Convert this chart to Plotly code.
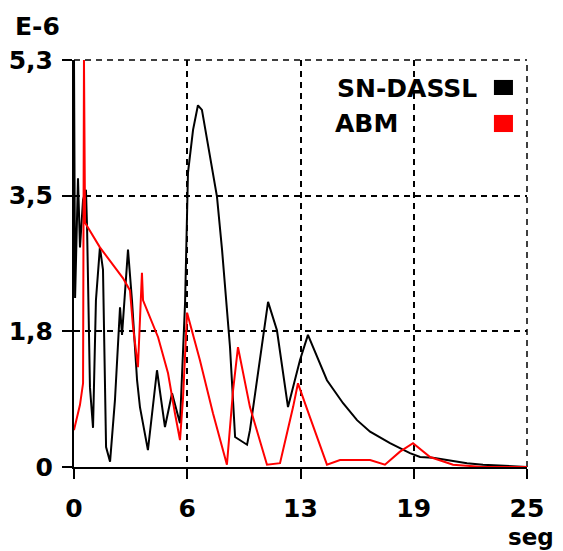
import plotly.graph_objects as go

# SN-DASSL (black) error curve, units of 1e-6
sn_x = [0.0, 0.06, 0.22, 0.33, 0.50, 0.66, 0.72, 0.88, 1.05, 1.21, 1.43, 1.60, 1.77, 1.99,
        2.26, 2.54, 2.65, 2.98, 3.20, 3.48, 3.64, 4.08, 4.58, 5.02, 5.41, 5.85, 6.13, 6.24,
        6.29, 6.57, 6.84, 7.06, 7.34, 7.67, 7.89, 8.17, 8.61, 8.89, 9.55, 9.71, 10.27, 10.71,
        11.20, 11.81, 12.47, 12.91, 13.96, 14.85, 15.62, 16.34, 17.44, 18.54, 19.10, 19.81,
        21.69, 22.57, 25.0]
sn_y = [5.30, 2.20, 3.76, 2.86, 3.48, 3.61, 3.13, 1.04, 0.51, 2.17, 2.86, 2.57, 0.26, 0.07,
        0.87, 2.08, 1.72, 2.83, 2.17, 1.13, 0.78, 0.22, 1.26, 0.52, 0.96, 0.57, 2.14, 3.31,
        3.83, 4.39, 4.71, 4.65, 4.26, 3.78, 3.52, 2.83, 1.56, 0.39, 0.29, 0.48, 1.43, 2.15,
        1.78, 0.78, 1.39, 1.72, 1.13, 0.83, 0.61, 0.46, 0.31, 0.18, 0.13, 0.12,
        0.05, 0.03, 0.0]

# ABM (red) error curve
abm_x = [0.0, 0.33, 0.50, 0.55, 0.61, 1.43, 2.70, 3.09, 3.26, 3.53, 3.75, 3.81, 4.64, 5.19,
         5.57, 5.85, 6.02, 6.24, 6.95, 7.67, 8.44, 8.78, 9.05, 9.71, 10.65, 11.37, 12.09,
         12.36, 13.02, 13.96, 14.68, 16.34, 17.16, 17.99, 18.71, 19.65, 20.92, 22.57, 25.0]
abm_y = [0.48, 0.81, 1.09, 5.30, 3.18, 2.86, 2.46, 2.30, 1.82, 1.30, 2.53, 2.17, 1.69, 1.22,
         0.70, 0.35, 0.91, 2.01, 1.39, 0.70, 0.03, 1.00, 1.56, 0.78, 0.03, 0.05, 0.78,
         1.09, 0.65, 0.03, 0.09, 0.09, 0.03, 0.20, 0.31, 0.13, 0.03, 0.0, 0.0]

x_tickvals = [0, 6.25, 12.5, 18.75, 25]
x_ticktext = ["0", "6", "13", "19", "25"]
y_tickvals = [0, 5.3 / 3, 2 * 5.3 / 3, 5.3]
y_ticktext = ["0", "1,8", "3,5", "5,3"]

FONT = "DejaVu Sans"
DASH = "6px,5px"

fig = go.Figure()
fig.add_trace(go.Scatter(x=sn_x, y=sn_y, mode="lines", name="SN-DASSL",
                         line=dict(color="black", width=2)))
fig.add_trace(go.Scatter(x=abm_x, y=abm_y, mode="lines", name="ABM",
                         line=dict(color="#ff0000", width=2)))

axis_common = dict(showline=True, linecolor="black", linewidth=2,
                   ticks="outside", ticklen=10, tickwidth=2, tickcolor="black",
                   showgrid=True, gridcolor="black", gridwidth=1.5, griddash=DASH,
                   zeroline=False, automargin=False,
                   tickfont=dict(family=FONT, size=25, color="black", weight="bold"))

fig.update_xaxes(range=[0, 25], tickmode="array", tickvals=x_tickvals, ticktext=x_ticktext,
                 ticklabelstandoff=8, **axis_common)
fig.update_yaxes(range=[0, 5.3], tickmode="array", tickvals=y_tickvals, ticktext=y_ticktext,
                 ticklabelstandoff=4, **axis_common)

# dashed top and right border
fig.add_shape(type="line", xref="paper", yref="paper", x0=0, x1=1, y0=1, y1=1,
              line=dict(color="black", width=1.5, dash=DASH), layer="below")
fig.add_shape(type="line", xref="paper", yref="paper", x0=1, x1=1, y0=0, y1=1,
              line=dict(color="black", width=1.5, dash=DASH), layer="below")

# legend-like markers and labels
fig.add_shape(type="rect", xref="paper", yref="paper", x0=0.927, x1=0.969, y0=0.914, y1=0.951,
              fillcolor="black", line=dict(width=0))
fig.add_shape(type="rect", xref="paper", yref="paper", x0=0.927, x1=0.969, y0=0.823, y1=0.865,
              fillcolor="#ff0000", line=dict(width=0))
tf = dict(family=FONT, size=25, color="black", weight="bold")
fig.add_annotation(text="SN-DASSL", xref="paper", yref="paper", x=0.893, y=0.929,
                   xanchor="right", yanchor="middle", showarrow=False, font=tf)
fig.add_annotation(text="ABM", xref="paper", yref="paper", x=0.572, y=0.843,
                   xanchor="left", yanchor="middle", showarrow=False, font=tf)
fig.add_annotation(text="E-6", xref="paper", yref="paper", x=-0.134, y=1.0835,
                   xanchor="left", yanchor="middle", showarrow=False, font=tf)
fig.add_annotation(text="seg", xref="paper", yref="paper", x=1.063, y=-0.172,
                   xanchor="right", yanchor="middle", showarrow=False,
                   font=dict(family=FONT, size=23, color="black", weight="bold"))

fig.update_layout(width=563, height=551, margin=dict(l=74, r=36, t=60, b=84),
                  plot_bgcolor="white", paper_bgcolor="white", showlegend=False)

fig.write_html("out.html")
